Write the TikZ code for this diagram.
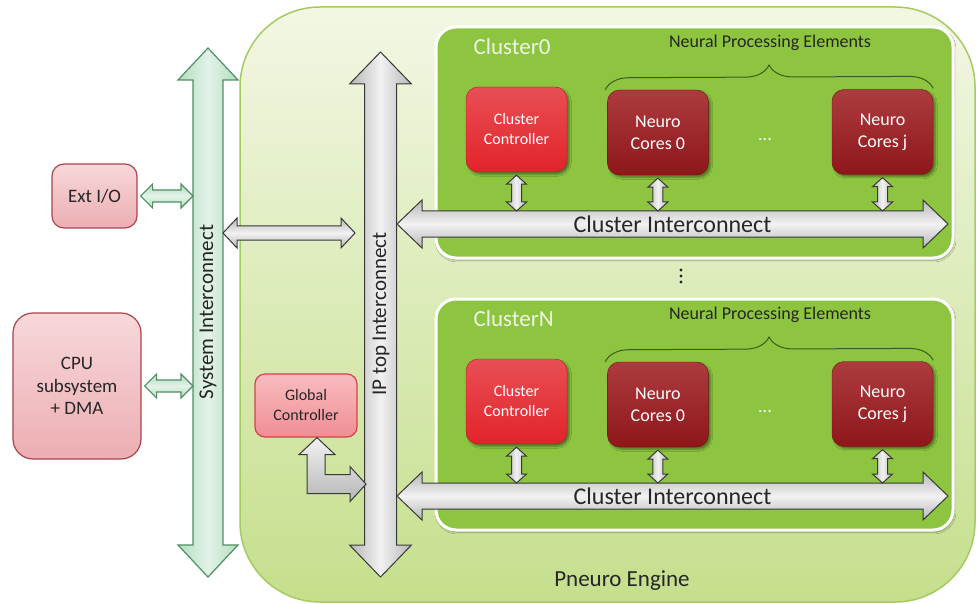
\documentclass[tikz,border=0pt]{standalone}
\usepackage{fontspec}
\setmainfont{Carlito}
\usetikzlibrary{positioning,calc,decorations.pathreplacing,shadows.blur}

\definecolor{textDark}{HTML}{262626}
\definecolor{engineTop}{HTML}{F2F7E4}
\definecolor{engineBot}{HTML}{C5DF8C}
\definecolor{engineLine}{HTML}{A6CA62}
\definecolor{clusterFill}{HTML}{8DC540}
\definecolor{cluText}{HTML}{EEF6E2}
\definecolor{braceGreen}{HTML}{3C5A1E}
\definecolor{ctrlRed}{HTML}{E2232A}
\definecolor{coreRed}{HTML}{9E191D}
\definecolor{pinkTop}{HTML}{F7D8DA}
\definecolor{pinkBot}{HTML}{ECAEB2}
\definecolor{pinkLine}{HTML}{A9444D}
\definecolor{gcTop}{HTML}{F8BCC0}
\definecolor{gcBot}{HTML}{F08E94}
\definecolor{gcLine}{HTML}{DD3F48}
\definecolor{busGray}{HTML}{B6B6B6}
\definecolor{busLight}{HTML}{F2F2F2}
\definecolor{busGreen}{HTML}{B3DCC0}
\definecolor{busGreenLight}{HTML}{E3F2E8}
\definecolor{busGreenLine}{HTML}{4E8E62}

\tikzset{
    % fat double arrow: shaft half width / head half width / head length
    fat/.style args={#1/#2/#3}{to path={
        (\tikztostart)
        -- ($(\tikztostart)!#3!(\tikztotarget)!#2!90:(\tikztotarget)$)
        -- ($(\tikztostart)!#3!(\tikztotarget)!#1!90:(\tikztotarget)$)
        -- ($(\tikztotarget)!#3!(\tikztostart)!#1!-90:(\tikztostart)$)
        -- ($(\tikztotarget)!#3!(\tikztostart)!#2!-90:(\tikztostart)$)
        -- (\tikztotarget)
        -- ($(\tikztotarget)!#3!(\tikztostart)!#2!90:(\tikztostart)$)
        -- ($(\tikztotarget)!#3!(\tikztostart)!#1!90:(\tikztostart)$)
        -- ($(\tikztostart)!#3!(\tikztotarget)!#1!-90:(\tikztotarget)$)
        -- ($(\tikztostart)!#3!(\tikztotarget)!#2!-90:(\tikztotarget)$)
        -- cycle}},
    hgray/.style={draw=black!78, line width=1pt,
        top color=busGray, bottom color=busGray, middle color=busLight},
    vgray/.style={draw=black!78, line width=1pt,
        left color=busGray, right color=busGray, middle color=busLight},
    hgreen/.style={draw=busGreenLine, line width=1.2pt,
        top color=busGreen, bottom color=busGreen, middle color=busGreenLight},
    vgreen/.style={draw=busGreenLine, line width=1.2pt,
        left color=busGreen, right color=busGreen, middle color=busGreenLight},
    engine/.style={draw=engineLine, line width=1.5pt, rounded corners=80pt,
        top color=engineTop, bottom color=engineBot,
        minimum width=735pt, minimum height=595pt},
    cluster/.style={draw=white, line width=3pt, fill=clusterFill,
        rounded corners=20pt, minimum width=517pt, minimum height=231pt,
        blur shadow={shadow xshift=1pt, shadow yshift=-2pt, shadow blur steps=4}},
    ctrlbox/.style={draw=ctrlRed!80!black, rounded corners=12pt,
        top color=ctrlRed!80!white, bottom color=ctrlRed,
        minimum width=101pt, minimum height=85pt, align=center,
        text=white, font=\fontsize{16}{20}\selectfont,
        blur shadow={shadow blur steps=4}},
    corebox/.style={draw=coreRed!70!black, rounded corners=12pt,
        top color=coreRed!85!white, bottom color=coreRed!90!black,
        minimum width=101pt, minimum height=85pt, align=center,
        text=white, font=\fontsize{18}{22}\selectfont,
        blur shadow={shadow blur steps=4}},
    pinkbox/.style={draw=pinkLine, line width=1.2pt, rounded corners=12pt,
        top color=pinkTop, bottom color=pinkBot, align=center,
        font=\fontsize{19}{22.5}\selectfont},
    gcbox/.style={draw=gcLine, line width=1.2pt, rounded corners=10pt,
        top color=gcTop, bottom color=gcBot, align=center,
        minimum width=102pt, minimum height=63pt,
        font=\fontsize{16}{20}\selectfont},
    cluname/.style={text=cluText, anchor=west, font=\fontsize{23}{26}\selectfont},
    npe/.style={font=\fontsize{18}{20}\selectfont},
    bustext/.style={font=\fontsize{24}{28}\selectfont},
    vbustext/.style={rotate=90, font=\fontsize{21}{24}\selectfont},
    brace/.style={decorate, decoration={brace, amplitude=24pt},
        draw=braceGreen, line width=1pt},
}

\begin{document}
\begin{tikzpicture}[x=1pt, y=-1pt, every node/.style={text=textDark}]
    \useasboundingbox (0,0) rectangle (977,604);

    % Pneuro engine
    \node[engine] (engine) at (607.5,304.5) {};
    \node[font=\fontsize{23}{26}\selectfont] (englab) at (622,581) {Pneuro Engine};

    % clusters
    \foreach \c/\lab/\dy in {0/Cluster0/0, N/ClusterN/272}{
    \begin{scope}[shift={(0,\dy)}]
        \node[cluster] (clu\c) at (694.5,142.5) {};
        \node[cluname] (lab\c) at (470,47) {\lab};
        \node[npe] (npe\c) at (770,43) {Neural Processing Elements};
        \node[ctrlbox] (cc\c) at (516.5,129.5) {Cluster\\Controller};
        \node[corebox, right=40pt of cc\c, yshift=-3pt] (nca\c) {Neuro\\Cores 0};
        \node[corebox] (ncb\c) at (882.5,132) {Neuro\\Cores j};
        \node[text=white, font=\fontsize{18}{20}\selectfont] (dots\c) at (765,140) {...};
        \draw[brace] ([xshift=-2pt]nca\c.north west) -- ([yshift=1pt]ncb\c.north east);

        \coordinate (icw\c) at (397,224);
        \coordinate (ice\c) at (948,224);
        \coordinate (ictop\c) at (0,211);
        \draw[hgray, fat=13pt/24pt/25pt] (icw\c) to (ice\c);
        \node[bustext] (ict\c) at ($(icw\c)!0.5!(ice\c)$) {Cluster Interconnect};

        \draw[vgray, fat=5pt/10pt/9pt] ([yshift=-3pt]cc\c.south) to (cc\c.south |- ictop\c);
        \draw[vgray, fat=5pt/10pt/9pt] ([yshift=-3pt]nca\c.south) to (nca\c.south |- ictop\c);
        \draw[vgray, fat=5pt/10pt/9pt] ([yshift=-3pt]ncb\c.south) to (ncb\c.south |- ictop\c);
    \end{scope}
    }
    % vertical dots between the clusters
    \foreach \k in {0,1,2}
        \fill[textDark] (681,{270+6*\k}) circle (1.7pt);

    % IP top interconnect
    \coordinate (iptop) at (380.5,52);
    \coordinate (ipbot) at (380.5,577);
    \draw[vgray, fat=16pt/31pt/32pt] (iptop) to (ipbot);
    \node[vbustext] (iptext) at (381,314) {IP top Interconnect};

    % system interconnect
    \coordinate (systop) at (208,48);
    \coordinate (sysbot) at (208,577);
    \coordinate (sysw) at (193,0);
    \draw[vgreen, fat=15pt/30pt/32pt] (systop) to (sysbot);
    \node[vbustext] (systext) at (208,312) {System Interconnect};

    % outside blocks
    \node[pinkbox, minimum width=85pt, minimum height=64pt] (ext) at (94.5,196) {Ext I/O};
    \node[pinkbox, rounded corners=20pt, minimum width=128pt, minimum height=146pt]
        (cpu) at (77,386) {CPU\\subsystem\\+ DMA};
    \draw[hgreen, fat=6pt/12pt/12pt] ([xshift=3pt]ext.east) to (ext.east -| sysw);
    \draw[hgreen, fat=6pt/12pt/12pt] ([xshift=3pt]cpu.east) to (cpu.east -| sysw);

    \coordinate (sysip) at (223,233);
    \coordinate (ipsys) at (355,233);
    \draw[hgray, fat=7pt/15pt/14pt] (sysip) to (ipsys);

    % global controller
    \node[gcbox] (gc) at (306,405.5) {Global\\Controller};
    \draw[draw=black!78, line width=1pt, top color=busLight, bottom color=busGray]
        ([xshift=11pt]gc.south) -- ++(18,17) -- ++(-10,0) -- ++(0,20)
        -- ++(25,0) -- ++(0,-8) -- ++(16,17.5) -- ++(-16,17.5) -- ++(0,-8)
        -- ++(-43,0) -- ++(0,-39) -- ++(-8,0) -- cycle;
\end{tikzpicture}
\end{document}
